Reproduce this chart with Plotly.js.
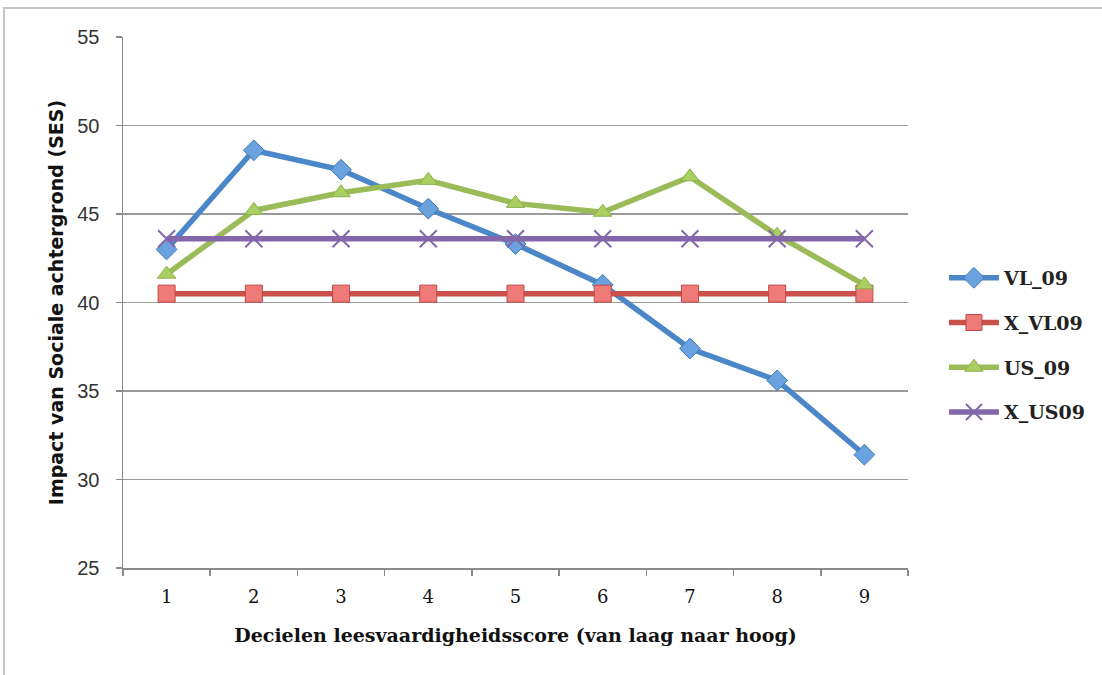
<!DOCTYPE html>
<html>
<head>
<meta charset="utf-8">
<script src="https://cdn.plot.ly/plotly-3.0.1.min.js"></script>
<style>
html,body{margin:0;padding:0;background:#fff;}
#wrap{position:relative;width:1102px;height:675px;overflow:hidden;}
#frame{position:absolute;left:3px;top:7px;width:1200px;height:800px;border-left:2px solid #c4c4c4;border-top:2px solid #c4c4c4;pointer-events:none;}
#chart{position:absolute;left:0;top:0;width:1102px;height:675px;}
</style>
</head>
<body>
<div id="wrap"><div id="chart"></div><div id="frame"></div></div>
<script>
const categories = ['1','2','3','4','5','6','7','8','9'];
const VL_09  = [43.0, 48.6, 47.5, 45.3, 43.3, 41.0, 37.4, 35.6, 31.4];
const X_VL09 = [40.5, 40.5, 40.5, 40.5, 40.5, 40.5, 40.5, 40.5, 40.5];
const US_09  = [41.6, 45.2, 46.2, 46.9, 45.6, 45.1, 47.1, 43.8, 41.0];
const X_US09 = [43.6, 43.6, 43.6, 43.6, 43.6, 43.6, 43.6, 43.6, 43.6];
const yTicks = [25, 30, 35, 40, 45, 50, 55];

const serif = 'DejaVu Serif, Liberation Serif, serif';
const sans = 'Liberation Sans, DejaVu Sans, sans-serif';

function tr(name, y, lineColor, sym, mColor, mLine, size, group){
  return {
    type:'scatter', mode:'lines+markers', name:name, x:categories, y:y,
    legendgroup:group,
    line:{color:lineColor, width:5.5},
    marker:{symbol:sym, size:size, color:mColor, line:{color:mLine, width:1}}
  };
}
const data = [
  tr('VL_09', VL_09, '#4A86C8', 'diamond', '#6AA2E0', '#3E78B8', 16, 'a'),
  tr('X_VL09', X_VL09, '#C9504B', 'square', '#EE7B78', '#C24844', 17, 'b'),
  tr('US_09', US_09, '#9BBB59', 'triangle-up', '#A9CF62', '#8DB04A', 16, 'c'),
  Object.assign(tr('X_US09', X_US09, '#8466AA', 'x-thin-open', '#8466AA', '#8466AA', 16, 'd'),
    {marker:{symbol:'x-thin-open', size:17, color:'#8466AA', line:{color:'#8466AA', width:2}}})
];

const layout = {
  width:1102, height:675,
  margin:{l:123, r:192, t:37, b:107},
  paper_bgcolor:'rgba(0,0,0,0)', plot_bgcolor:'#fff',
  font:{family:serif, color:'#111', size:16},
  showlegend:true,
  legend:{x:1.0458, y:0.42, yanchor:'middle', xanchor:'left',
    font:{family:serif, size:19, color:'#222', weight:'bold'},
    itemwidth:50, tracegroupgap:17, bgcolor:'rgba(0,0,0,0)'},
  xaxis:{
    type:'category', range:[-0.5, 8.5],
    tickmode:'array', tickvals:categories, ticktext:categories,
    ticks:'outside', tickson:'boundaries', ticklen:6, tickcolor:'#8a8a8a', tickwidth:1.5,
    ticklabelstandoff:12,
    showline:true, linecolor:'#8a8a8a', linewidth:1.5, showgrid:false, zeroline:false,
    tickfont:{family:serif, size:18, color:'#111'},
    title:{text:'Decielen leesvaardigheidsscore (van laag naar hoog)', standoff:22,
      font:{family:serif, size:19, color:'#111', weight:'bold'}}
  },
  yaxis:{
    range:[25, 55], tickmode:'array', tickvals:yTicks, ticktext:yTicks.map(String),
    ticks:'outside', ticklen:6, tickcolor:'#8a8a8a', tickwidth:1.5,
    ticklabelstandoff:12,
    showline:true, linecolor:'#8a8a8a', linewidth:1.5,
    showgrid:true, gridcolor:'#9a9a9a', gridwidth:1.5, zeroline:false,
    tickfont:{family:sans, size:20, color:'#333'},
    title:{text:'Impact van Sociale achtergrond (SES)', standoff:8,
      font:{family:'DejaVu Sans, sans-serif', size:19, color:'#111', weight:'bold'}}
  }
};
Plotly.newPlot('chart', data, layout, {displayModeBar:false, staticPlot:true});
</script>
</body>
</html>
